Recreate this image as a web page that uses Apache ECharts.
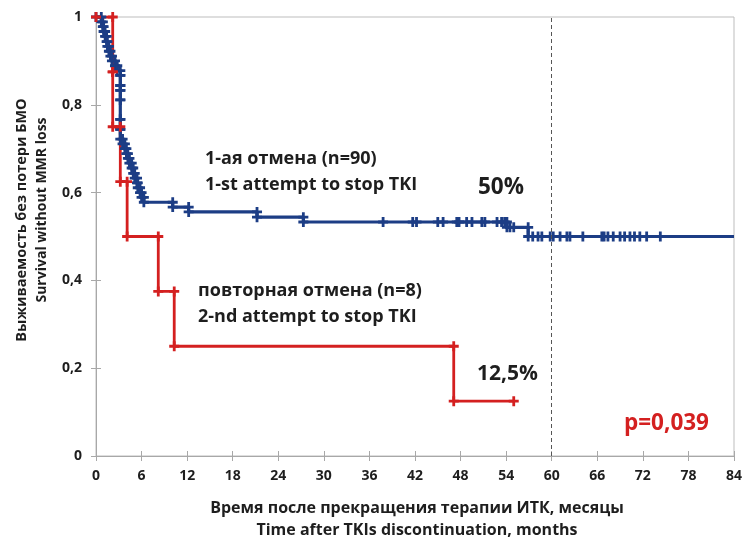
<!DOCTYPE html>
<html><head><meta charset="utf-8">
<script src="https://cdn.jsdelivr.net/npm/echarts@6/dist/echarts.min.js"></script>
<style>html,body{margin:0;padding:0;background:#fff}#c{width:751px;height:540px}</style>
</head><body><div id="c"></div>
<script>
// Axis ticks
const xTicks = [0, 6, 12, 18, 24, 30, 36, 42, 48, 54, 60, 66, 72, 78, 84];
const yTickLabels = ['0', '0,2', '0,4', '0,6', '0,8', '1'];

// First attempt to stop TKI (n=90): step times (months) and survival after each step
const blueTimes = [0, 0.7, 0.9, 1.0, 1.2, 1.4, 1.5, 1.7, 1.9, 2.1, 2.5, 2.8, 3.2, 3.2, 3.2, 3.2, 3.2, 3.2, 3.2, 3.5, 3.8, 4.0, 4.2, 4.4, 4.7, 4.9, 5.1, 5.4, 5.5, 5.8, 6.0, 6.3, 10.1, 12.2, 21.2, 27.3, 54.1, 56.9, 84];
const blueSurv = [1, 0.989, 0.978, 0.967, 0.956, 0.944, 0.933, 0.922, 0.911, 0.9, 0.889, 0.878, 0.867, 0.844, 0.833, 0.811, 0.767, 0.744, 0.722, 0.711, 0.7, 0.689, 0.678, 0.667, 0.656, 0.644, 0.633, 0.622, 0.611, 0.6, 0.589, 0.578, 0.567, 0.556, 0.544, 0.533, 0.521, 0.5, 0.5];
// censored observations of the first-attempt group
const blueCensorTimes = [37.8, 41.7, 42.2, 45.0, 45.7, 47.5, 47.8, 48.8, 49.5, 50.8, 51.2, 52.8, 53.4, 53.8, 54.5, 55.0, 57.5, 58.2, 58.7, 59.8, 60.2, 61.1, 62.0, 62.4, 64.1, 66.6, 66.9, 67.4, 68.1, 69.0, 69.6, 70.3, 70.9, 71.6, 72.5, 74.3];
const blueCensorSurv = [0.533, 0.533, 0.533, 0.533, 0.533, 0.533, 0.533, 0.533, 0.533, 0.533, 0.533, 0.533, 0.533, 0.533, 0.521, 0.521, 0.5, 0.5, 0.5, 0.5, 0.5, 0.5, 0.5, 0.5, 0.5, 0.5, 0.5, 0.5, 0.5, 0.5, 0.5, 0.5, 0.5, 0.5, 0.5, 0.5];

// Second attempt to stop TKI (n=8)
const redTimes = [0, 2.2, 2.2, 3.2, 4.1, 8.2, 10.3, 47.1, 55];
const redSurv = [1, 0.875, 0.75, 0.625, 0.5, 0.375, 0.25, 0.125, 0.125];

const vLineMonth = 60;

function corners(t, s) {
  const pts = [[t[0], s[0]]];
  for (let i = 1; i < t.length; i++) {
    if (s[i] !== s[i - 1]) pts.push([t[i], s[i - 1]]);
    pts.push([t[i], s[i]]);
  }
  return pts;
}

const BLUE = '#1c3d85';
const RED = '#d42020';
const PLUS = 'path://M3.6,0H6.4V3.6H10V6.4H6.4V10H3.6V6.4H0V3.6H3.6Z';
const FONT = 'Open Sans';
const TXT = '#1e1e1e';
const W = 'bold';

const bluePts = corners(blueTimes, blueSurv).map((p, i, a) => i === a.length - 1 ? { value: p, symbol: 'none' } : p);
const redPts = corners(redTimes, redSurv);
const blueCens = blueCensorTimes.map((t, i) => [t, blueCensorSurv[i]]);

const chart = echarts.init(document.getElementById('c'), null, { renderer: 'canvas' });
const axisLabelStyle = { fontFamily: FONT, fontWeight: 'bold', fontSize: 14, color: TXT };
function txt(x, y, text, size, fill, align) {
  return { type: 'text', x: x, y: y, style: { text: text, font: `${W} ${size}px "${FONT}"`, fill: fill || TXT, align: align || 'left', verticalAlign: 'middle' } };
}
chart.setOption({
  animation: false,
  grid: { left: 96, right: 17, top: 17, bottom: 84, show: true, borderColor: '#bdbdbd', borderWidth: 1 },
  xAxis: [
    { type: 'value', min: 0, max: 84, interval: 6,
      axisLine: { lineStyle: { color: '#a8a8a8' } },
      axisTick: { show: true, length: 5, lineStyle: { color: '#a8a8a8' } },
      splitLine: { show: false },
      axisLabel: Object.assign({ margin: 13, formatter: v => xTicks.includes(v) ? String(v) : '' }, axisLabelStyle) },
    { type: 'value', min: 0, max: 84, interval: 6, position: 'bottom',
      axisLine: { show: false }, axisLabel: { show: false }, splitLine: { show: false },
      axisTick: { show: true, inside: true, length: 5, lineStyle: { color: '#a8a8a8' } } }
  ],
  yAxis: [
    { type: 'value', min: 0, max: 1, interval: 0.2,
      axisLine: { show: true, lineStyle: { color: '#a8a8a8' } },
      axisTick: { show: true, length: 5, lineStyle: { color: '#a8a8a8' } },
      splitLine: { show: false },
      axisLabel: Object.assign({ margin: 14, formatter: v => yTickLabels[Math.round(v * 5)] }, axisLabelStyle) },
    { type: 'value', min: 0, max: 1, interval: 0.2, position: 'left',
      axisLine: { show: false }, axisLabel: { show: false }, splitLine: { show: false },
      axisTick: { show: true, inside: true, length: 5, lineStyle: { color: '#a8a8a8' } } }
  ],
  series: [
    { type: 'line', data: [], markLine: { silent: true, symbol: 'none', label: { show: false },
        lineStyle: { type: [4, 3], color: '#555', width: 1 }, data: [{ xAxis: vLineMonth }] } },
    { type: 'line', data: bluePts, showAllSymbol: true, symbol: PLUS, symbolSize: 10,
      lineStyle: { color: BLUE, width: 3.2 }, itemStyle: { color: BLUE, opacity: 1 } },
    { type: 'scatter', data: blueCens, symbol: PLUS, symbolSize: 10, itemStyle: { color: BLUE, opacity: 1 } },
    { type: 'line', data: redPts, showAllSymbol: true, symbol: PLUS, symbolSize: 10,
      lineStyle: { color: RED, width: 2.8 }, itemStyle: { color: RED, opacity: 1 } }
  ],
  graphic: [
    txt(205, 159, '1-ая отмена (n=90)', 18),
    txt(205, 185, '1-st attempt to stop TKI', 18),
    txt(478, 188, '50%', 22.5),
    txt(198, 291, 'повторная отмена (n=8)', 18),
    txt(198, 317, '2-nd attempt to stop TKI', 18),
    txt(477, 374, '12,5%', 21),
    txt(624, 424, 'p=0,039', 22.5, RED),
    txt(417, 508, 'Время после прекращения терапии ИТК, месяцы', 16, TXT, 'center'),
    txt(417, 530, 'Time after TKIs discontinuation, months', 16, TXT, 'center'),
    Object.assign(txt(22, 220, 'Выживаемость без потери БМО', 14.5, TXT, 'center'), { rotation: Math.PI / 2 }),
    Object.assign(txt(42, 210, 'Survival without MMR loss', 14, TXT, 'center'), { rotation: Math.PI / 2 })
  ]
});
</script>
</body></html>
